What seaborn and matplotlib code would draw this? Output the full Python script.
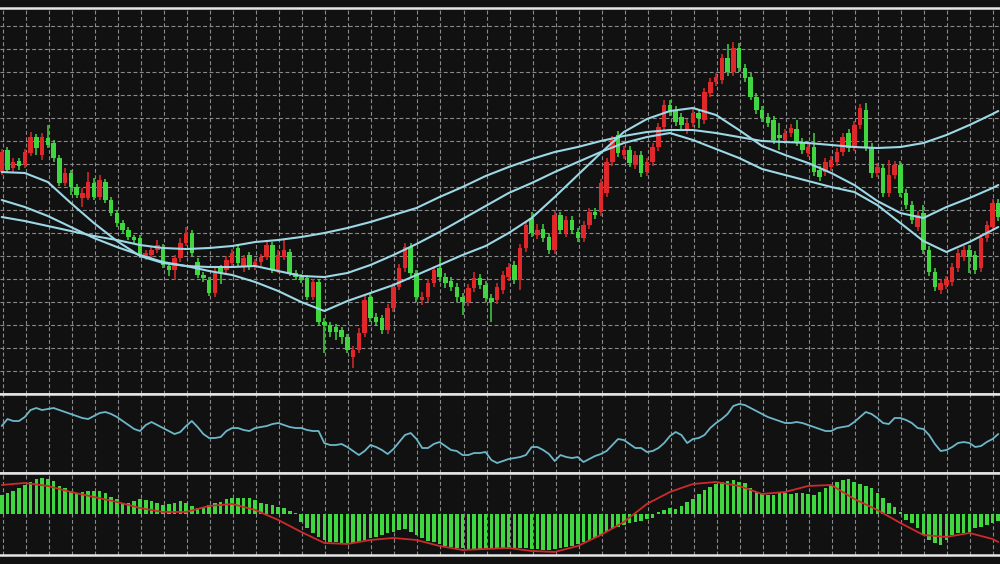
import numpy as np
import pandas as pd
import matplotlib
matplotlib.use("Agg")
import matplotlib.pyplot as plt
import seaborn as sns

# candle prices, one value per bar (price in points)
open_ = [222, 244, 226, 233, 229, 241, 257, 239, 256, 251,
         236, 211, 221, 207, 196, 196, 211, 197, 212, 194,
         181, 171, 164, 157, 156, 137, 139, 144, 147, 128,
         124, 136, 151, 161, 132, 119, 114, 101, 126, 124,
         131, 146, 127, 139, 128, 132, 137, 149, 124, 137,
         142, 121, 117, 116, 97, 112, 72, 69, 67, 64,
         57, 37, 44, 61, 97, 77, 76, 64, 86, 107,
         126, 147, 121, 94, 97, 111, 126, 117, 113, 107,
         97, 92, 106, 116, 109, 96, 94, 104, 117, 129,
         114, 146, 176, 159, 165, 157, 144, 179, 161, 174,
         162, 156, 169, 182, 182, 201, 232, 259, 239, 244,
         229, 239, 222, 232, 247, 267, 289, 284, 277, 264,
         271, 281, 274, 301, 312, 314, 336, 322, 346, 326,
         317, 297, 284, 277, 274, 259, 254, 261, 265, 252,
         241, 247, 224, 222, 227, 232, 242, 261, 247, 269,
         284, 247, 221, 226, 201, 219, 229, 201, 189, 167,
         181, 144, 122, 104, 109, 112, 126, 137, 144, 139,
         126, 156, 167, 191]
close = [242, 224, 232, 228, 242, 257, 246, 257, 249, 236,
         211, 221, 207, 199, 201, 212, 197, 214, 194, 181,
         171, 164, 157, 154, 139, 141, 144, 149, 129, 124,
         136, 151, 161, 141, 119, 116, 101, 121, 121, 134,
         141, 131, 136, 128, 132, 137, 149, 124, 139, 144,
         121, 117, 114, 97, 112, 72, 69, 62, 62, 57,
         44, 44, 61, 94, 76, 72, 64, 86, 107, 126,
         147, 121, 97, 97, 111, 124, 117, 111, 107, 97,
         92, 106, 116, 109, 96, 92, 107, 119, 127, 114,
         146, 169, 161, 164, 156, 144, 179, 164, 174, 164,
         156, 169, 182, 179, 211, 232, 254, 241, 244, 231,
         239, 221, 232, 247, 267, 289, 282, 272, 269, 271,
         281, 276, 302, 312, 317, 336, 322, 346, 326, 316,
         297, 284, 276, 271, 254, 256, 261, 266, 252, 244,
         247, 222, 217, 232, 234, 242, 257, 246, 269, 286,
         247, 221, 227, 201, 219, 229, 201, 189, 174, 179,
         144, 122, 107, 111, 114, 127, 141, 144, 137, 124,
         156, 169, 191, 177]
high = [245, 247, 236, 236, 245, 262, 260, 261, 269, 254,
        239, 226, 224, 210, 206, 222, 216, 219, 215, 197,
        184, 174, 167, 159, 159, 144, 147, 154, 150, 131,
        139, 156, 167, 164, 136, 122, 117, 126, 129, 138,
        145, 150, 139, 142, 135, 140, 152, 152, 144, 154,
        145, 124, 120, 119, 115, 115, 76, 72, 70, 67,
        60, 48, 66, 99, 100, 81, 79, 90, 111, 130,
        151, 151, 124, 102, 115, 128, 137, 121, 117, 111,
        101, 110, 122, 120, 113, 100, 111, 123, 131, 133,
        150, 173, 182, 170, 170, 161, 183, 182, 178, 178,
        166, 173, 186, 186, 215, 236, 258, 263, 248, 248,
        243, 243, 236, 251, 271, 294, 294, 288, 281, 275,
        285, 285, 306, 316, 321, 340, 350, 352, 351, 330,
        321, 301, 288, 281, 278, 271, 265, 270, 274, 256,
        251, 261, 228, 236, 238, 246, 261, 265, 273, 290,
        291, 251, 231, 230, 234, 233, 233, 205, 193, 183,
        189, 148, 126, 115, 118, 131, 145, 148, 149, 143,
        160, 173, 195, 195]
low = [219, 221, 222, 224, 226, 238, 239, 234, 246, 232,
       208, 208, 199, 196, 187, 194, 194, 194, 191, 178,
       167, 161, 154, 151, 136, 134, 136, 141, 126, 118,
       114, 132, 148, 138, 116, 112, 98, 97, 110, 119,
       128, 128, 122, 124, 124, 128, 134, 121, 121, 134,
       118, 114, 111, 94, 94, 68, 41, 57, 54, 50,
       41, 26, 41, 57, 72, 68, 60, 60, 82, 104,
       122, 116, 92, 89, 92, 107, 112, 106, 103, 92,
       79, 88, 102, 105, 92, 72, 90, 100, 113, 110,
       104, 142, 157, 155, 152, 140, 140, 160, 157, 160,
       152, 152, 165, 175, 178, 197, 228, 237, 235, 227,
       225, 217, 218, 228, 243, 263, 278, 268, 264, 260,
       267, 266, 270, 297, 308, 310, 318, 318, 322, 312,
       294, 280, 272, 267, 250, 244, 250, 257, 248, 240,
       237, 218, 213, 218, 223, 228, 238, 242, 243, 265,
       243, 216, 217, 197, 197, 215, 197, 185, 170, 163,
       140, 118, 103, 100, 105, 108, 122, 133, 121, 120,
       122, 152, 163, 173]

# moving averages, read every 4th bar plus the last bar
ma_bar = list(range(0, 173, 4)) + [173]
ma_a = [222, 221, 212, 191, 171, 153, 138, 131, 128, 127,
        127, 128, 123, 118, 117, 121, 129, 139, 150, 162,
        175, 188, 201, 211, 222, 232, 242, 251, 257, 261,
        254, 245, 236, 225, 219, 213, 207, 202, 189, 171,
        153, 142, 152, 164, 167]
ma_b = [194, 187, 178, 167, 156, 147, 139, 132, 128, 123,
        119, 112, 103, 92, 83, 93, 101, 109, 119, 129,
        139, 148, 161, 176, 197, 219, 241, 262, 275, 283,
        286, 279, 264, 248, 239, 231, 221, 209, 193, 181,
        176, 187, 196, 206, 209]
ma_c = [177, 173, 168, 163, 158, 154, 149, 146, 145, 146,
        148, 152, 154, 157, 161, 166, 172, 179, 186, 197,
        207, 218, 227, 235, 242, 247, 253, 258, 262, 264,
        264, 261, 257, 253, 252, 251, 249, 247, 246, 247,
        251, 259, 269, 280, 283]

# oscillator, one value per bar
osc = [47, 54, 52, 52, 56, 63, 65, 63, 64, 65,
       63, 61, 59, 57, 55, 54, 57, 60, 61, 59,
       56, 52, 48, 44, 42, 48, 51, 48, 45, 42,
       39, 41, 47, 52, 46, 39, 35, 35, 36, 42,
       45, 45, 43, 42, 45, 46, 47, 49, 50, 48,
       46, 45, 45, 43, 42, 42, 30, 28, 28, 29,
       26, 22, 18, 22, 28, 26, 23, 19, 24, 31,
       38, 40, 34, 25, 25, 29, 31, 27, 23, 22,
       18, 18, 20, 20, 21, 13, 10, 12, 14, 15,
       16, 18, 26, 26, 23, 19, 12, 18, 16, 15,
       16, 11, 14, 17, 19, 22, 28, 34, 33, 29,
       25, 25, 21, 22, 25, 30, 37, 41, 38, 30,
       34, 35, 38, 45, 50, 54, 59, 67, 69, 68,
       65, 62, 59, 56, 54, 52, 50, 50, 51, 50,
       48, 46, 44, 42, 42, 45, 46, 47, 51, 56,
       61, 59, 55, 50, 49, 55, 55, 53, 50, 45,
       44, 38, 29, 22, 23, 26, 30, 31, 30, 26,
       27, 31, 34, 39]

# macd histogram, one value per bar
macd_hist = [19, 21, 23, 26, 29, 32, 35, 36, 35, 33,
             28, 26, 23, 21, 22, 23, 23, 23, 21, 17,
             15, 11, 11, 13, 15, 14, 13, 11, 9, 10,
             11, 13, 11, 8, 6, 7, 9, 11, 12, 15,
             16, 16, 16, 16, 14, 11, 10, 9, 7, 6,
             3, 1, -8, -14, -19, -23, -26, -28, -28, -29,
             -30, -29, -28, -26, -24, -23, -21, -19, -18, -16,
             -15, -18, -21, -24, -27, -28, -30, -32, -33, -34,
             -34, -35, -35, -35, -34, -34, -35, -35, -35, -34,
             -34, -34, -35, -35, -36, -36, -35, -34, -33, -32,
             -30, -28, -26, -24, -21, -18, -15, -13, -11, -9,
             -8, -7, -5, -4, 2, 4, 6, 5, 8, 12,
             15, 20, 24, 27, 30, 32, 33, 34, 32, 31,
             26, 22, 21, 19, 19, 21, 21, 20, 21, 21,
             20, 19, 22, 26, 29, 32, 34, 35, 32, 30,
             28, 26, 21, 16, 11, 7, 2, -6, -9, -14,
             -21, -26, -29, -31, -26, -21, -19, -19, -18, -14,
             -13, -11, -9, -7]
# signal line, same bars as the moving averages
macd_signal = [29, 31, 28, 22, 17, 12, 6, 2, 2, 8,
               10, 4, -6, -18, -29, -30, -26, -24, -26, -32,
               -36, -35, -34, -37, -38, -32, -21, -8, 10, 22,
               30, 32, 28, 20, 22, 28, 29, 15, 4, -9,
               -21, -23, -19, -25, -28]

df = pd.DataFrame({"open": open_, "high": high, "low": low, "close": close,
                   "osc": osc, "hist": macd_hist})
df["bar"] = np.arange(len(df))

bg = "#111111"
grid_col = "#8a8a8a"
border_col = "#e6e6e6"
red = "#e0282b"
green = "#3fd63f"
ma_col = "#9cd8e6"

sns.set_theme(style="dark", rc={"axes.facecolor": bg, "figure.facecolor": bg})

fig = plt.figure(figsize=(10, 5.64), dpi=100, facecolor=bg)
ax1 = fig.add_axes([0, 0.3014, 1, 0.6844])
ax2 = fig.add_axes([0, 0.1613, 1, 0.1401])
ax3 = fig.add_axes([0, 0.0160, 1, 0.1454])

for ax in (ax1, ax2, ax3):
    ax.set_facecolor(bg)
    ax.set_xlim(-0.3, 173.3)
    ax.set_xticks(np.arange(0.17, 174, 4))
    ax.set_axisbelow(True)
    ax.grid(True, axis="x", color=grid_col, linestyle=(0, (3.5, 2.2)), linewidth=0.8)
    ax.tick_params(left=False, bottom=False, labelleft=False, labelbottom=False)
    for side in ("left", "right"):
        ax.spines[side].set_visible(False)
    for side in ("top", "bottom"):
        ax.spines[side].set_color(border_col)
        ax.spines[side].set_linewidth(1.8)
        ax.spines[side].set_zorder(10)

# main price panel
ax1.set_ylim(0, 386)
ax1.set_yticks(np.arange(23, 386, 23))
ax1.grid(True, axis="y", color=grid_col, linestyle=(0, (3.5, 2.2)), linewidth=0.8)

up = df["close"] >= df["open"]
cols = np.where(up, red, green)
ax1.vlines(df["bar"], df["low"], df["high"], colors=cols, linewidth=1.1, zorder=2)
body_lo = np.minimum(df["open"], df["close"])
body_h = np.maximum((df["close"] - df["open"]).abs(), 1.5)
ax1.bar(df["bar"], body_h, bottom=body_lo, width=0.78, color=cols, linewidth=0, zorder=3)

for vals in (ma_a, ma_b, ma_c):
    sns.lineplot(x=ma_bar, y=vals, ax=ax1, color=ma_col, linewidth=1.5,
                 estimator=None, zorder=4)
ax1.set_xlabel("")
ax1.set_ylabel("")

# oscillator panel
ax2.set_ylim(0, 79)
sns.lineplot(data=df, x="bar", y="osc", ax=ax2, color="#6cb7c9", linewidth=1.3,
             estimator=None, zorder=3)
ax2.set_xlabel("")
ax2.set_ylabel("")

# macd panel
ax3.set_ylim(-41, 41)
ax3.bar(df["bar"], df["hist"], width=0.62, color=green, linewidth=0, zorder=2)
sns.lineplot(x=ma_bar, y=macd_signal, ax=ax3, color="#cc2b2b", linewidth=1.3,
             estimator=None, zorder=3)
ax3.set_xlabel("")
ax3.set_ylabel("")

fig.savefig("out.png", dpi=100, facecolor=bg)
